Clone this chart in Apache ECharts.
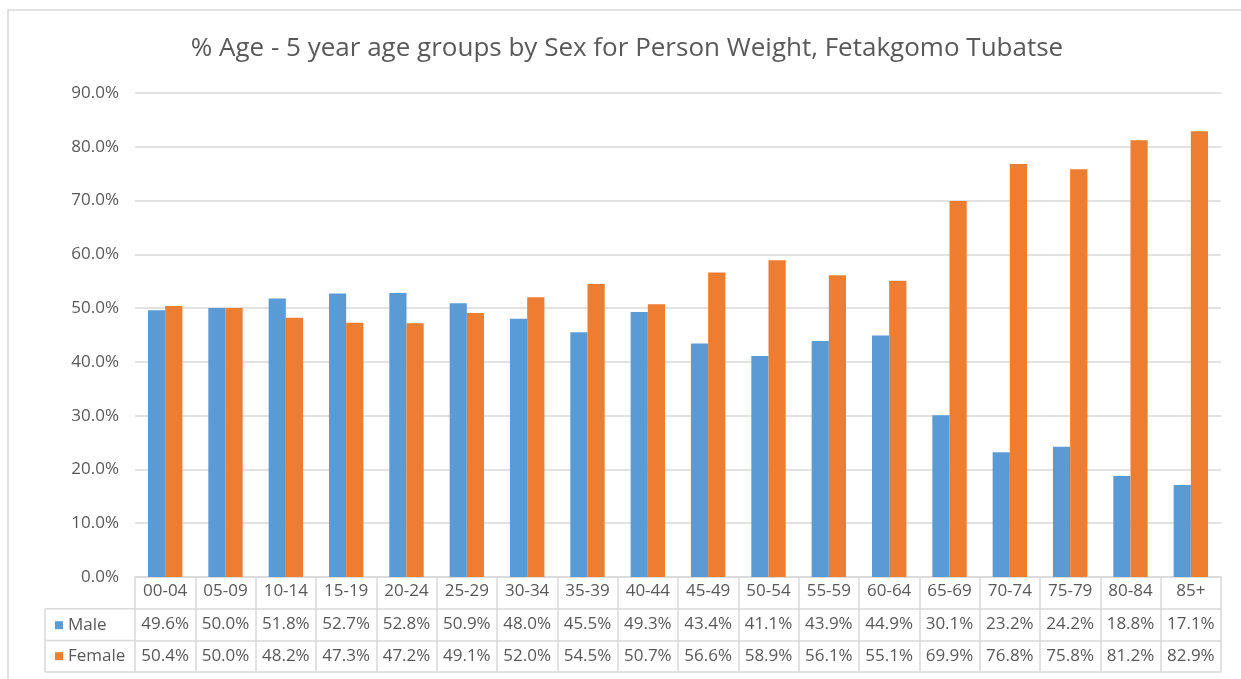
<!DOCTYPE html>
<html><head><meta charset="utf-8">
<script src="https://cdn.jsdelivr.net/npm/echarts@6/dist/echarts.min.js"></script>
<style>html,body{margin:0;padding:0;background:#fff}#c{width:1241px;height:679px}</style>
</head><body><div id="c"></div>
<script>
const categories = ['00-04','05-09','10-14','15-19','20-24','25-29','30-34','35-39','40-44','45-49','50-54','55-59','60-64','65-69','70-74','75-79','80-84','85+'];
const male = [49.6,50.0,51.8,52.7,52.8,50.9,48.0,45.5,49.3,43.4,41.1,43.9,44.9,30.1,23.2,24.2,18.8,17.1];
const female = [50.4,50.0,48.2,47.3,47.2,49.1,52.0,54.5,50.7,56.6,58.9,56.1,55.1,69.9,76.8,75.8,81.2,82.9];
const yTicks = {min:0, max:90, interval:10};

const TXT = '#595959', LINE = '#D9D9D9';
const FONT = 'Open Sans';
const FS = 17;
const G = {left:135, right:20, top:93, bottom:102};
const ROW = 31.7;
const chart = echarts.init(document.getElementById('c'));
const fmt = v => v.toFixed(1) + '%';
const tableAxis = (vals, off) => ({
  type:'category', data: vals.map(fmt), position:'bottom', offset: off,
  axisLine:{show:true, lineStyle:{color:LINE, width:1.5}}, axisTick:{show:false},
  axisLabel:{color:TXT, fontSize:FS, fontFamily:FONT, margin:7, interval:0}
});
const W = 1241, H = 679;
const gy = H - G.bottom;
chart.setOption({
  animation:false,
  title:{text:'% Age - 5 year age groups by Sex for Person Weight, Fetakgomo Tubatse', left:622, textAlign:'center', top:31,
    textStyle:{color:TXT, fontSize:26, fontWeight:'normal', fontFamily:FONT}},
  legend:{orient:'vertical', left:50, top:gy + ROW + 3, itemGap:14, itemWidth:8, itemHeight:8, icon:'rect',
    textStyle:{color:TXT, fontSize:FS, fontFamily:FONT}, data:['Male','Female']},
  grid:G,
  xAxis:[
    {type:'category', data:categories, position:'bottom',
     axisLine:{lineStyle:{color:LINE, width:1.5}},
     axisTick:{show:true, length:ROW*3, lineStyle:{color:LINE, width:1.5}, interval:0},
     axisLabel:{color:TXT, fontSize:FS, fontFamily:FONT, margin:6, interval:0}},
    tableAxis(male, ROW),
    tableAxis(female, ROW*2)
  ],
  yAxis:{type:'value', min:yTicks.min, max:yTicks.max, interval:yTicks.interval,
    axisLine:{show:false}, axisTick:{show:false},
    splitLine:{lineStyle:{color:LINE, width:1.5}},
    axisLabel:{color:TXT, fontSize:FS, fontFamily:FONT, margin:16, formatter: v => v.toFixed(1)+'%'}},
  series:[
    {name:'Male', type:'bar', data:male, xAxisIndex:0, itemStyle:{color:'#5B9BD5'}, barGap:'0%', barCategoryGap:'43%'},
    {name:'Female', type:'bar', data:female, xAxisIndex:0, itemStyle:{color:'#ED7D31'}, barGap:'0%', barCategoryGap:'43%'}
  ],
  graphic:[
    {type:'rect', shape:{x:8, y:10, width:1300, height:700}, style:{fill:'none', stroke:LINE, lineWidth:1.5}, silent:true},
    {type:'line', shape:{x1:45, y1:gy+ROW, x2:G.left, y2:gy+ROW}, style:{stroke:LINE, lineWidth:1.5}},
    {type:'line', shape:{x1:45, y1:gy+ROW*2, x2:G.left, y2:gy+ROW*2}, style:{stroke:LINE, lineWidth:1.5}},
    {type:'line', shape:{x1:45, y1:gy+ROW*3, x2:W-G.right, y2:gy+ROW*3}, style:{stroke:LINE, lineWidth:1.5}},
    {type:'line', shape:{x1:45, y1:gy+ROW, x2:45, y2:gy+ROW*3}, style:{stroke:LINE, lineWidth:1.5}}
  ]
});
</script></body></html>
